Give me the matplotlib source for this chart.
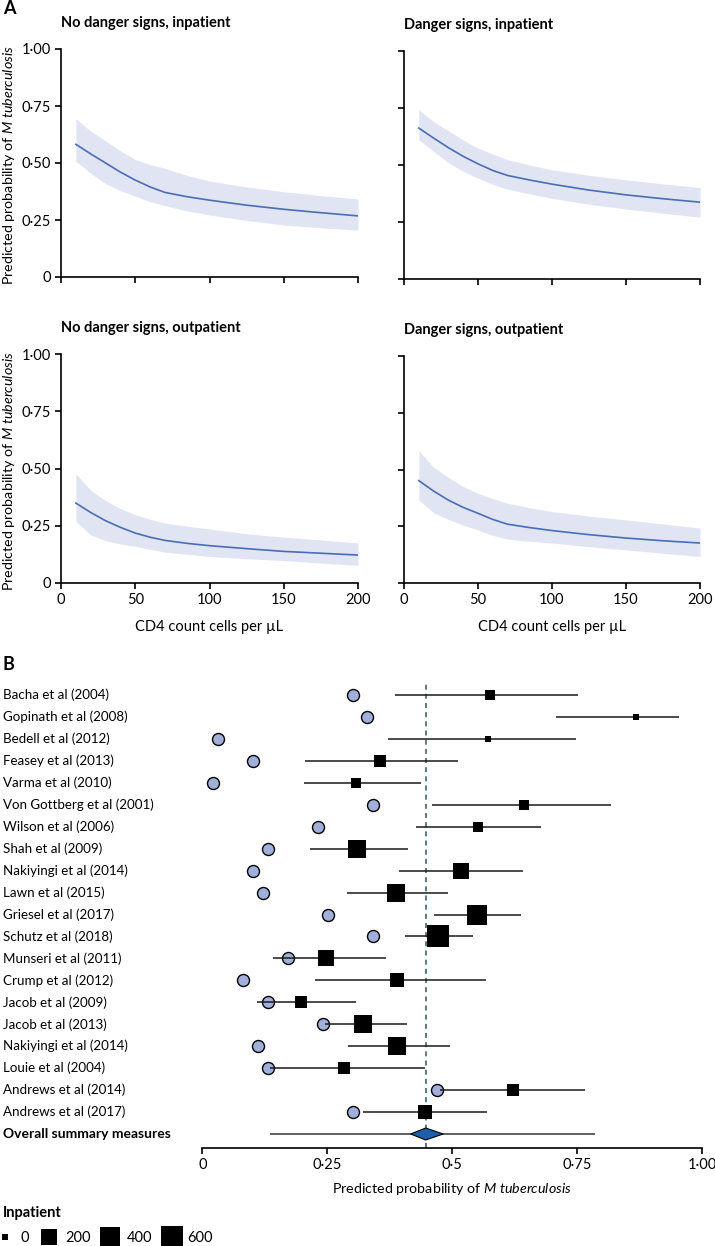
import numpy as np
import matplotlib
matplotlib.use("Agg")
import matplotlib.pyplot as plt
from matplotlib.lines import Line2D
from matplotlib.transforms import blended_transform_factory

plt.rcParams['font.family'] = ['Lato', 'DejaVu Sans']
plt.rcParams['mathtext.fontset'] = 'custom'
plt.rcParams['mathtext.rm'] = 'Lato'
plt.rcParams['mathtext.it'] = 'Lato:italic'

# ---------------- Panel A data ----------------
cd4 = [10, 20, 30, 40, 50, 60, 70, 85, 100, 125, 150, 175, 200]

panel_titles = ["No danger signs, inpatient", "Danger signs, inpatient",
                "No danger signs, outpatient", "Danger signs, outpatient"]

nd_in_mid = [0.582, 0.540, 0.500, 0.460, 0.425, 0.395, 0.371, 0.352, 0.337, 0.315, 0.297, 0.282, 0.268]
nd_in_hi = [0.694, 0.640, 0.597, 0.553, 0.515, 0.493, 0.477, 0.445, 0.421, 0.395, 0.374, 0.357, 0.342]
nd_in_lo = [0.508, 0.455, 0.410, 0.378, 0.355, 0.330, 0.313, 0.290, 0.272, 0.248, 0.228, 0.216, 0.206]

d_in_mid = [0.662, 0.618, 0.576, 0.538, 0.505, 0.476, 0.454, 0.434, 0.416, 0.390, 0.369, 0.352, 0.337]
d_in_hi = [0.742, 0.690, 0.650, 0.610, 0.574, 0.548, 0.523, 0.500, 0.479, 0.455, 0.435, 0.417, 0.401]
d_in_lo = [0.611, 0.560, 0.510, 0.472, 0.442, 0.415, 0.394, 0.373, 0.354, 0.328, 0.307, 0.289, 0.271]

nd_out_mid = [0.349, 0.308, 0.272, 0.243, 0.218, 0.200, 0.186, 0.173, 0.163, 0.150, 0.138, 0.130, 0.122]
nd_out_hi = [0.477, 0.405, 0.360, 0.325, 0.298, 0.278, 0.262, 0.248, 0.236, 0.215, 0.200, 0.188, 0.175]
nd_out_lo = [0.269, 0.210, 0.185, 0.170, 0.160, 0.147, 0.135, 0.125, 0.116, 0.106, 0.098, 0.087, 0.077]

d_out_mid = [0.451, 0.405, 0.365, 0.333, 0.307, 0.280, 0.259, 0.244, 0.231, 0.213, 0.198, 0.186, 0.176]
d_out_hi = [0.583, 0.510, 0.465, 0.425, 0.395, 0.372, 0.351, 0.332, 0.315, 0.295, 0.278, 0.260, 0.242]
d_out_lo = [0.366, 0.310, 0.280, 0.255, 0.234, 0.210, 0.193, 0.184, 0.176, 0.160, 0.146, 0.131, 0.117]

y_ticks = [0, 0.25, 0.5, 0.75, 1.0]
y_tick_labels = ["0", "0·25", "0·50", "0·75", "1·00"]
x_ticks = [0, 50, 100, 150, 200]

# ---------------- Panel B data ----------------
studies = ["Bacha et al (2004)", "Gopinath et al (2008)", "Bedell et al (2012)",
           "Feasey et al (2013)", "Varma et al (2010)", "Von Gottberg et al (2001)",
           "Wilson et al (2006)", "Shah et al (2009)", "Nakiyingi et al (2014)",
           "Lawn et al (2015)", "Griesel et al (2017)", "Schutz et al (2018)",
           "Munseri et al (2011)", "Crump et al (2012)", "Jacob et al (2009)",
           "Jacob et al (2013)", "Nakiyingi et al (2014)", "Louie et al (2004)",
           "Andrews et al (2014)", "Andrews et al (2017)"]
observed = [0.302, 0.330, 0.032, 0.102, 0.022, 0.341, 0.232, 0.132, 0.102, 0.122,
            0.252, 0.341, 0.172, 0.082, 0.132, 0.242, 0.112, 0.132, 0.470, 0.302]
predicted = [0.576, 0.868, 0.572, 0.356, 0.308, 0.643, 0.552, 0.309, 0.518, 0.388,
             0.550, 0.472, 0.247, 0.390, 0.198, 0.322, 0.390, 0.284, 0.621, 0.446]
pred_lo = [0.386, 0.708, 0.372, 0.205, 0.204, 0.459, 0.427, 0.215, 0.394, 0.289,
           0.464, 0.406, 0.142, 0.226, 0.109, 0.245, 0.291, 0.135, 0.475, 0.322]
pred_hi = [0.752, 0.954, 0.748, 0.512, 0.437, 0.817, 0.678, 0.412, 0.642, 0.491,
           0.638, 0.542, 0.367, 0.568, 0.307, 0.409, 0.495, 0.446, 0.765, 0.570]
inpatients = [57, 2, 1, 103, 51, 57, 51, 293, 216, 331,
              406, 588, 216, 158, 103, 293, 347, 75, 64, 136]

overall_label = "Overall summary measures"
overall_est = 0.447
overall_diamond_lo = 0.417
overall_diamond_hi = 0.482
overall_lo = 0.135
overall_hi = 0.785

legend_title = "Inpatient"
legend_sizes = [0, 200, 400, 600]
forest_ticks = [0, 0.25, 0.5, 0.75, 1.0]
forest_tick_labels = ["0", "0·25", "0·5", "0·75", "1·00"]

# ---------------- styling ----------------
W, H = 715, 1246
DPI = 100
fig = plt.figure(figsize=(W / DPI, H / DPI), dpi=DPI)

LINE_C = "#4a6db5"
BAND_C = "#e1e4f3"
CIRC_C = "#a0b0da"
SP_LW = 1.2
FS_TICK = 10.5
FS_T = 10.5
FS_LAB = 10.3
FS_STUDY = 9.6


def px_axes(l, t, r, b):
    return fig.add_axes([l / W, 1 - b / H, (r - l) / W, (b - t) / H])


def side_px(n):
    return 6 + 0.66 * np.sqrt(n)


def style_axes(ax):
    for s in ["top", "right"]:
        ax.spines[s].set_visible(False)
    for s in ["left", "bottom"]:
        ax.spines[s].set_linewidth(SP_LW)
    ax.tick_params(direction="out", length=4, width=SP_LW, labelsize=FS_TICK, pad=3)


ylab = r"Predicted probability of $\mathit{M\ tuberculosis}$"

panels = [
    (61, 49, 358, 277, nd_in_mid, nd_in_lo, nd_in_hi, True, False),
    (404, 51, 700, 279, d_in_mid, d_in_lo, d_in_hi, False, False),
    (61, 354, 358, 583, nd_out_mid, nd_out_lo, nd_out_hi, True, True),
    (404, 356, 700, 583, d_out_mid, d_out_lo, d_out_hi, False, True),
]

for i, (l, t, r, b, mid, lo, hi, ylabels, xlabels) in enumerate(panels):
    ax = px_axes(l, t, r, b)
    style_axes(ax)
    ax.fill_between(cd4, lo, hi, color=BAND_C, lw=0)
    ax.plot(cd4, mid, color=LINE_C, lw=1.2)
    ax.set_xlim(0, 200)
    ax.set_ylim(0, 1)
    ax.set_xticks(x_ticks)
    ax.set_yticks(y_ticks)
    if ylabels:
        ax.set_yticklabels(y_tick_labels)
        ax.set_ylabel(ylab, fontsize=FS_LAB)
        ax.yaxis.set_label_coords(-(l - 9) / (r - l), 0.49)
        ax.yaxis.label.set_va("center")
    else:
        ax.set_yticklabels([])
    if xlabels:
        ax.set_xticklabels([str(v) for v in x_ticks])
        ax.set_xlabel("CD4 count cells per µL", fontsize=10.5)
        ax.xaxis.set_label_coords(0.5, -(627 - b) / (b - t))
        ax.xaxis.label.set_va("center")
    else:
        ax.set_xticklabels([])
    ax.text(0, 1 + 26 / (b - t), panel_titles[i], transform=ax.transAxes,
            fontsize=FS_T, fontweight="bold", ha="left", va="center")

fig.text(3 / W, 1 - 9 / H, "A", fontsize=13, fontweight="bold", ha="left", va="center")
fig.text(3 / W, 1 - 665 / H, "B", fontsize=13, fontweight="bold", ha="left", va="center")

# ---------------- forest plot ----------------
n = len(studies)
rows = np.arange(n)
overall_row = n

axf = px_axes(202.3, 684, 702, 1148)
for s in ["top", "right", "left"]:
    axf.spines[s].set_visible(False)
axf.spines["bottom"].set_linewidth(SP_LW)
axf.tick_params(axis="x", direction="out", length=4, width=SP_LW, labelsize=FS_TICK, pad=3)
axf.set_yticks([])
axf.set_xlim(0, 1)
row_px = (1134 - 695) / 20
axf.set_ylim(overall_row + (1148 - 1134) / row_px, -(695 - 684) / row_px)
axf.set_xticks(forest_ticks)
axf.set_xticklabels(forest_tick_labels)
axf.set_xlabel(ylab, fontsize=FS_LAB)
axf.xaxis.set_label_coords(0.5, -(1189 - 1148) / (1148 - 684))
axf.xaxis.label.set_va("center")

axf.axvline(overall_est, color="#3d6479", lw=1.2, ls=(0, (3, 2.5)), zorder=1)

axf.plot(observed, rows, "o", ms=12 * 0.72, mfc=CIRC_C, mec="black", mew=1.0,
         ls="none", zorder=2, clip_on=False)
axf.hlines(rows, pred_lo, pred_hi, color="#1a1a1a", lw=1.1, zorder=3)
for k in range(n):
    axf.plot(predicted[k], rows[k], "s", ms=side_px(inpatients[k]) * 0.72,
             mfc="black", mec="black", mew=0, zorder=4)

axf.hlines(overall_row, overall_lo, overall_hi, color="#333333", lw=1.1, zorder=3)
dh = 6 / row_px
axf.fill([overall_diamond_lo, overall_est, overall_diamond_hi, overall_est],
         [overall_row, overall_row - dh, overall_row, overall_row + dh],
         facecolor="#1d5ea8", edgecolor="black", lw=0.8, zorder=5)

tr = blended_transform_factory(fig.transFigure, axf.transData)
for k in range(n):
    axf.text(3 / W, rows[k], studies[k], transform=tr, fontsize=FS_STUDY,
             ha="left", va="center")
axf.text(3 / W, overall_row, overall_label, transform=tr, fontsize=10,
         fontweight="bold", ha="left", va="center")

# ---------------- legend ----------------
fig.text(3 / W, 1 - 1213 / H, legend_title, fontsize=FS_T, fontweight="bold",
         ha="left", va="center")
handles = [Line2D([], [], marker="s", ls="none", mfc="black", mec="black", mew=0,
                  ms=side_px(v) * 0.72) for v in legend_sizes]
leg = fig.legend(handles, [str(v) for v in legend_sizes], ncol=4,
                 loc="center left", bbox_to_anchor=(-6 / W, 1 - 1238 / H),
                 frameon=False, fontsize=FS_TICK,
                 handlelength=1.5, handletextpad=0.35, columnspacing=0.6,
                 borderpad=0.0, borderaxespad=0.0)

fig.savefig("out.png", dpi=DPI)
